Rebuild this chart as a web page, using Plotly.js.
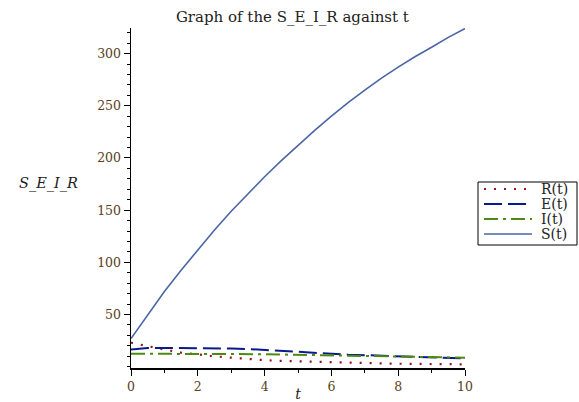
<!DOCTYPE html>
<html>
<head>
<meta charset="utf-8">
<script src="https://cdn.plot.ly/plotly-3.0.1.min.js"></script>
<style>html,body{margin:0;padding:0;background:#fff;}#chart{width:579px;height:402px;}</style>
</head>
<body>
<div id="chart"></div>
<script>
var tValues = [0,0.5,1,1.5,2,2.5,3,3.5,4,4.5,5,5.5,6,6.5,7,7.5,8,8.5,9,9.5,10];
var sValues = [27,50,72,92.5,112,131,149,166,182,197.5,212,226.5,240,253,265,276.5,287,297,306,315.5,324];
var eValues = [16.5,18,18,18,18,17.8,17.5,17,16,15,14,13,12.2,11.6,11.1,10.6,10,9.4,8.9,8.4,8];
var iValues = [12.5,12.5,12.6,12.6,12.5,12.4,12.2,12.1,12,11.7,11.4,11.1,10.8,10.5,10.3,10,9.8,9.5,9.2,8.9,8.7];
var rValues = [23,19.5,16.5,13.5,11.5,10,8.7,7.3,6.3,5.6,5.1,4.6,4.1,3.8,3.5,3.2,2.9,2.7,2.6,2.4,2.3];
var seriesNames = ["R(t)","E(t)","I(t)","S(t)"];
var yTickVals = [50,100,150,200,250,300];
var xTickVals = [0,2,4,6,8,10];

var serif = "DejaVu Serif, Liberation Serif, serif";
var styles = [
  {color:"#9b1020", width:2.2, dash:"2px,8px"},
  {color:"#0a1a8c", width:2, dash:"18px,6px"},
  {color:"#4f8a10", width:2, dash:"14px,5px,3px,5px"},
  {color:"#4a66a6", width:1.6, dash:"solid"}
];
var seriesData = [rValues, eValues, iValues, sValues];
var traces = seriesData.map(function(vals, k){
  return {x:tValues, y:vals, name:seriesNames[k], mode:"lines", line:styles[k], showlegend:false};
});

// plot area in pixels: x 131..465, y 28..368
function px(xp){ return (xp-131)/334; }
function py(yp){ return (368-yp)/340; }

var shapes = [{type:"rect", xref:"paper", yref:"paper", x0:px(478), x1:px(577), y0:py(245), y1:py(182),
               line:{color:"#000", width:1}, fillcolor:"rgba(0,0,0,0)", layer:"above"}];
var annotations = [{text:"<i>S_E_I_R</i>", xref:"paper", yref:"paper", x:px(48), y:py(183), showarrow:false,
                xanchor:"center", yanchor:"middle", font:{family:serif, size:14.5, color:"#222"}}];
var rowY = [189, 204, 219, 234];
seriesNames.forEach(function(nm, k){
  shapes.push({type:"line", xref:"paper", yref:"paper", x0:px(484), x1:px(532), y0:py(rowY[k]), y1:py(rowY[k]),
               line:{color:styles[k].color, width:styles[k].width, dash:styles[k].dash}, layer:"above"});
  annotations.push({text:nm, xref:"paper", yref:"paper", x:px(539), y:py(rowY[k]), showarrow:false,
                    xanchor:"left", yanchor:"middle", font:{family:serif, size:14, color:"#222"}});
});

var layout = {
  width:579, height:402,
  margin:{l:131, r:114, t:28, b:34, pad:0},
  paper_bgcolor:"#fff", plot_bgcolor:"#fff",
  title:{text:"Graph of the S_E_I_R against t", font:{family:serif, size:15, color:"#222"}, x:0.505, xanchor:"center", y:0.958, yanchor:"middle"},
  font:{family:serif, size:12, color:"#333"},
  showlegend:false,
  xaxis:{range:[0,10], tickvals:xTickVals, ticks:"outside", ticklen:6, tickcolor:"#000", tickwidth:1,
         minor:{dtick:1, tick0:0, ticks:"outside", ticklen:3, tickcolor:"#000"},
         showline:true, linecolor:"#000", linewidth:1.5, showgrid:false, zeroline:false,
         tickfont:{family:serif, size:12.5, color:"#5a4020"},
         title:{text:"<i>t</i>", font:{family:serif, size:14, color:"#222"}, standoff:3}},
  yaxis:{range:[-1.2,324.5], tickvals:yTickVals, ticks:"outside", ticklen:6, tickcolor:"#000", tickwidth:1,
         minor:{dtick:10, tick0:0, ticks:"outside", ticklen:3, tickcolor:"#000"},
         showline:true, linecolor:"#000", linewidth:1.5, showgrid:false, zeroline:false,
         tickfont:{family:serif, size:12.5, color:"#5a4020"}},
  shapes:shapes,
  annotations:annotations
};
Plotly.newPlot("chart", traces, layout, {displayModeBar:false, staticPlot:true});
</script>
</body>
</html>
